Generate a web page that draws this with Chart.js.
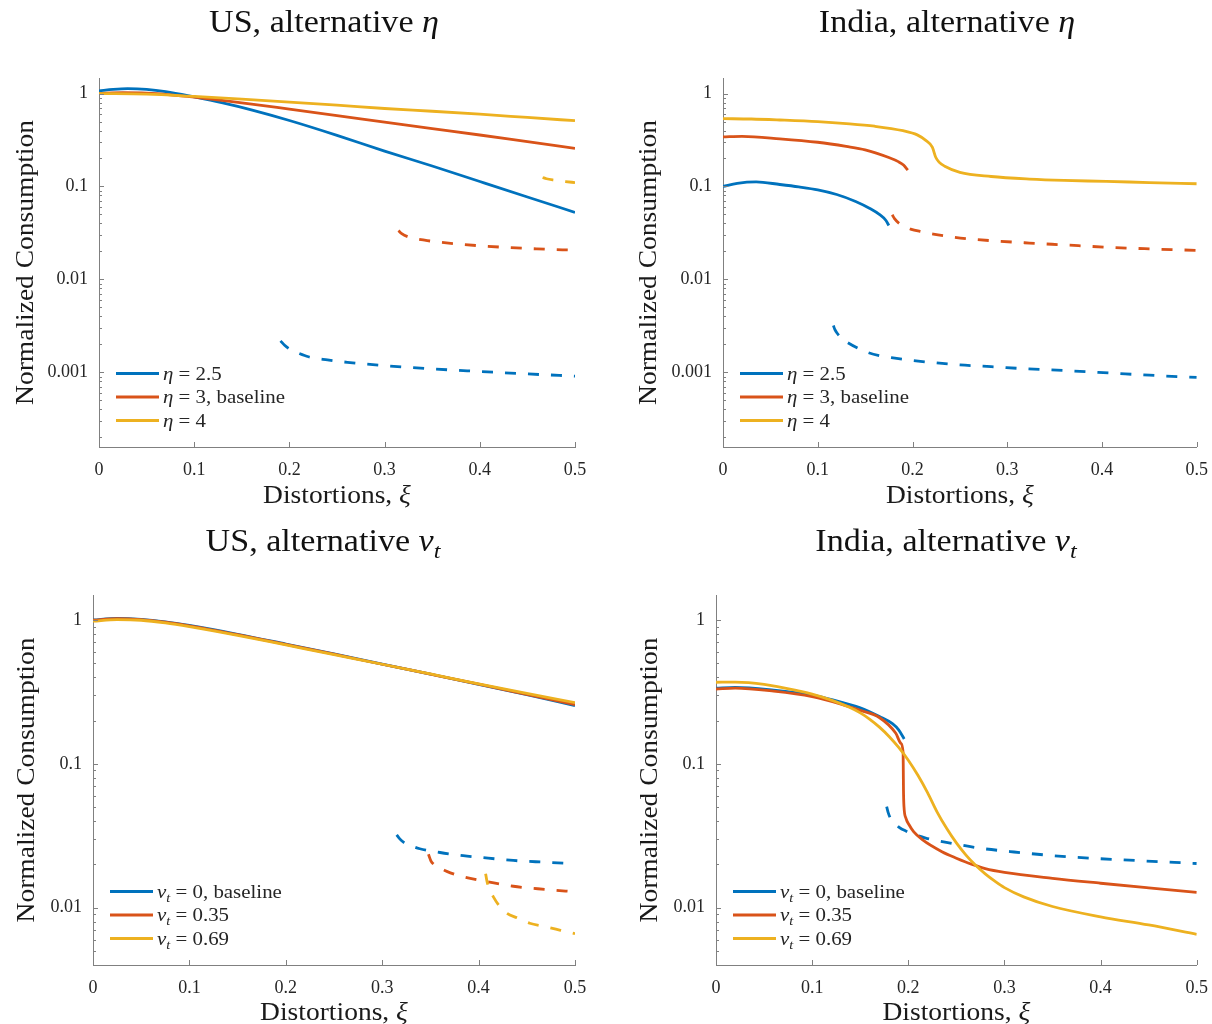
<!DOCTYPE html>
<html><head><meta charset="utf-8">
<script src="https://cdn.jsdelivr.net/npm/chart.js@4.4.1/dist/chart.umd.min.js"></script>
<style>
html,body{margin:0;padding:0;background:#fff;}
#wrap{position:relative;width:1212px;height:1024px;background:#fff;}
#wrap canvas{position:absolute;}
</style></head><body>
<div id="wrap">
<canvas id="c1" width="606" height="512" style="left:0px;top:0px"></canvas>
<canvas id="c2" width="606" height="512" style="left:606px;top:0px"></canvas>
<canvas id="c3" width="606" height="512" style="left:0px;top:512px"></canvas>
<canvas id="c4" width="606" height="512" style="left:606px;top:512px"></canvas>
</div>
<script>
// ---------- tick labels ----------
const XI_TICKS = [0, 0.1, 0.2, 0.3, 0.4, 0.5];
const Y_DECADE_LABELS = {'0': '1', '-1': '0.1', '-2': '0.01', '-3': '0.001'};

// ---------- US, alternative eta ----------
const US_ETA25_X = [0, 0.015, 0.03, 0.05, 0.07, 0.1, 0.13, 0.16, 0.2, 0.25, 0.3, 0.35, 0.4, 0.45, 0.5];
const US_ETA25_Y = [1.07, 1.11, 1.13, 1.11, 1.05, 0.92, 0.794, 0.668, 0.513, 0.355, 0.24, 0.166, 0.113, 0.077, 0.0526];
const US_ETA3_X = [0, 0.025, 0.05, 0.075, 0.1, 0.15, 0.2, 0.25, 0.3, 0.35, 0.4, 0.45, 0.5];
const US_ETA3_Y = [1.0, 1.02, 1.01, 0.97, 0.915, 0.795, 0.68, 0.58, 0.493, 0.42, 0.358, 0.303, 0.257];
const US_ETA4_X = [0, 0.05, 0.1, 0.15, 0.2, 0.25, 0.3, 0.35, 0.4, 0.45, 0.5];
const US_ETA4_Y = [1.0, 0.985, 0.93, 0.87, 0.81, 0.75, 0.69, 0.645, 0.6, 0.553, 0.51];
const US_ETA25_DASH_X = [0.1907, 0.195, 0.2, 0.21, 0.22, 0.24, 0.261, 0.3, 0.342, 0.4, 0.45, 0.5];
const US_ETA25_DASH_Y = [0.00218, 0.00195, 0.00178, 0.0016, 0.00147, 0.00136, 0.00128, 0.00118, 0.0011, 0.00102, 0.00096, 0.00091];
const US_ETA3_DASH_X = [0.3146, 0.318, 0.326, 0.342, 0.36, 0.383, 0.42, 0.46, 0.5];
const US_ETA3_DASH_Y = [0.0335, 0.031, 0.0284, 0.0264, 0.025, 0.0237, 0.0223, 0.0213, 0.0206];
const US_ETA4_DASH_X = [0.466, 0.47, 0.478, 0.49, 0.5];
const US_ETA4_DASH_Y = [0.125, 0.121, 0.117, 0.113, 0.11];

// ---------- India, alternative eta ----------
const IN_ETA25_X = [0, 0.015, 0.035, 0.06, 0.08, 0.1, 0.12, 0.14, 0.155, 0.165, 0.172, 0.175];
const IN_ETA25_Y = [0.1, 0.108, 0.112, 0.105, 0.099, 0.092, 0.082, 0.069, 0.058, 0.05, 0.043, 0.038];
const IN_ETA3_X = [0, 0.02, 0.06, 0.1, 0.13, 0.15, 0.175, 0.185, 0.1905, 0.195];
const IN_ETA3_Y = [0.341, 0.346, 0.326, 0.299, 0.27, 0.248, 0.205, 0.185, 0.17, 0.15];
const IN_ETA4_X = [0, 0.03, 0.06, 0.1, 0.13, 0.16, 0.19, 0.205, 0.214, 0.2209, 0.2245, 0.228, 0.234, 0.25, 0.283, 0.3235, 0.36, 0.4046, 0.45, 0.5];
const IN_ETA4_Y = [0.537, 0.532, 0.519, 0.498, 0.475, 0.445, 0.398, 0.359, 0.313, 0.265, 0.206, 0.183, 0.165, 0.142, 0.128, 0.12, 0.116, 0.1135, 0.11, 0.107];
const IN_ETA25_DASH_X = [0.1165, 0.118, 0.1205, 0.126, 0.1327, 0.142, 0.153, 0.165, 0.1814, 0.2, 0.222, 0.25, 0.283, 0.32, 0.364, 0.41, 0.45, 0.5];
const IN_ETA25_DASH_Y = [0.00318, 0.0029, 0.00263, 0.00228, 0.00205, 0.00182, 0.00163, 0.00151, 0.00142, 0.00134, 0.00127, 0.0012, 0.00115, 0.00109, 0.00104, 0.00098, 0.00093, 0.00088];
const IN_ETA3_DASH_X = [0.1786, 0.181, 0.186, 0.192, 0.198, 0.21, 0.222, 0.24, 0.2626, 0.29, 0.3235, 0.36, 0.4046, 0.45, 0.5];
const IN_ETA3_DASH_Y = [0.0495, 0.045, 0.04, 0.037, 0.0348, 0.0325, 0.0307, 0.0288, 0.0271, 0.0258, 0.0246, 0.0235, 0.0222, 0.0213, 0.0205];

// ---------- US, alternative nu_t ----------
const US_NU_X = [0, 0.025, 0.05, 0.075, 0.1, 0.15, 0.2, 0.25, 0.3, 0.35, 0.4, 0.45, 0.5];
const US_NU0_Y = [1.0, 1.025, 1.01, 0.97, 0.915, 0.795, 0.68, 0.58, 0.493, 0.42, 0.357, 0.302, 0.254];
const US_NU35_Y = [0.995, 1.02, 1.005, 0.965, 0.91, 0.79, 0.677, 0.578, 0.492, 0.42, 0.358, 0.304, 0.258];
const US_NU69_Y = [0.98, 1.005, 0.995, 0.955, 0.9, 0.782, 0.67, 0.574, 0.492, 0.421, 0.36, 0.309, 0.266];
const US_NU0_DASH_X = [0.315, 0.318, 0.322, 0.33, 0.339, 0.36, 0.384, 0.41, 0.436, 0.47, 0.5];
const US_NU0_DASH_Y = [0.0321, 0.0302, 0.0286, 0.0269, 0.0257, 0.0242, 0.023, 0.0221, 0.0213, 0.0207, 0.0202];
const US_NU35_DASH_X = [0.348, 0.3505, 0.353, 0.36, 0.367, 0.38, 0.4015, 0.436, 0.47, 0.5];
const US_NU35_DASH_Y = [0.0235, 0.0212, 0.0202, 0.0189, 0.0179, 0.0167, 0.0155, 0.0141, 0.0134, 0.0129];
const US_NU69_DASH_X = [0.4073, 0.4085, 0.411, 0.4153, 0.421, 0.429, 0.44, 0.453, 0.47, 0.485, 0.5];
const US_NU69_DASH_Y = [0.0172, 0.0155, 0.0135, 0.0119, 0.0104, 0.0092, 0.0085, 0.0078, 0.00736, 0.00697, 0.0066];

// ---------- India, alternative nu_t ----------
const IN_NU0_X = [0, 0.02, 0.06, 0.1, 0.1214, 0.15, 0.17, 0.1835, 0.19, 0.1957];
const IN_NU0_Y = [0.335, 0.34, 0.325, 0.3, 0.278, 0.245, 0.213, 0.19, 0.172, 0.149];
const IN_NU35_X = [0, 0.02, 0.06, 0.1, 0.13, 0.15, 0.1698, 0.187, 0.1922, 0.1946, 0.1948, 0.195, 0.1955, 0.1975, 0.2008, 0.2055, 0.2146, 0.235, 0.25, 0.2664, 0.28, 0.3, 0.35, 0.4, 0.45, 0.5];
const IN_NU35_Y = [0.331, 0.336, 0.32, 0.293, 0.26, 0.235, 0.21, 0.163, 0.139, 0.12, 0.09, 0.065, 0.0505, 0.042, 0.0377, 0.0338, 0.0297, 0.0245, 0.0221, 0.02, 0.0187, 0.0176, 0.016, 0.0148, 0.01375, 0.0128];
const IN_NU69_X = [0, 0.02, 0.05, 0.087, 0.1, 0.12, 0.1387, 0.15, 0.16, 0.17, 0.18, 0.19, 0.2, 0.21, 0.22, 0.23, 0.24, 0.25, 0.26, 0.27, 0.28, 0.29, 0.3, 0.32, 0.35, 0.4, 0.45, 0.5];
const IN_NU69_Y = [0.369, 0.37, 0.357, 0.32, 0.305, 0.277, 0.247, 0.226, 0.204, 0.18, 0.155, 0.13, 0.106, 0.0832, 0.0631, 0.0462, 0.0355, 0.0282, 0.0232, 0.0197, 0.0172, 0.0153, 0.0138, 0.0119, 0.0102, 0.00865, 0.00759, 0.00653];
const IN_NU0_DASH_X = [0.1775, 0.179, 0.1815, 0.1855, 0.1905, 0.198, 0.2055, 0.2181, 0.2456, 0.2733, 0.31, 0.3658, 0.43, 0.5];
const IN_NU0_DASH_Y = [0.0504, 0.046, 0.0418, 0.039, 0.0362, 0.034, 0.0324, 0.0305, 0.028, 0.026, 0.0244, 0.0226, 0.0214, 0.0203];

// ---------- styling ----------
const BLUE = '#0072BD', RED = '#D95319', YELLOW = '#EDB120';
const AXIS_COLOR = '#808080', TEXT_COLOR = '#262626';
const FONT = '"Liberation Serif", "DejaVu Serif", serif';
const DASH = [11, 12];
const LINE_W = 2.8;

function pts(xs, ys) { return xs.map((v, i) => ({x: v, y: ys[i]})); }

function parseRich(s) {
  const segs = [];
  for (let i = 0; i < s.length; i++) {
    let ch = s[i], style = 'r';
    if (ch === '_') { ch = s[++i]; style = 'sub'; }
    else if (/[\u03b1-\u03c9]/.test(ch)) style = 'i';
    const last = segs[segs.length - 1];
    if (last && last.style === style) last.t += ch; else segs.push({t: ch, style});
  }
  return segs;
}
function drawRich(ctx, s, x, y, size, align, sx, color) {
  const segs = parseRich(s);
  const fontFor = st => st === 'r' ? `${size}px ${FONT}` : st === 'i' ? `italic ${size}px ${FONT}` : `italic ${Math.round(size * 0.7)}px ${FONT}`;
  let w = 0;
  segs.forEach(g => { ctx.font = fontFor(g.style); g.w = ctx.measureText(g.t).width; w += g.w; });
  ctx.save();
  ctx.translate(x, y); ctx.scale(sx, 1);
  ctx.fillStyle = color; ctx.textBaseline = 'alphabetic'; ctx.textAlign = 'left';
  let cx = align === 'center' ? -w / 2 : (align === 'right' ? -w : 0);
  segs.forEach(g => { ctx.font = fontFor(g.style); ctx.fillText(g.t, cx, g.style === 'sub' ? size * 0.22 : 0); cx += g.w; });
  ctx.restore();
}

const decorPlugin = {
  id: 'decor',
  afterDraw(chart) {
    const cfg = chart.options.plugins.decor;
    const {ctx, chartArea: ca} = chart;
    const xs = chart.scales.x, ys = chart.scales.y;
    ctx.save();
    ctx.strokeStyle = AXIS_COLOR; ctx.lineWidth = 1;
    ctx.beginPath();
    XI_TICKS.forEach(v => {
      const px = Math.round(xs.getPixelForValue(v)) + 0.5;
      ctx.moveTo(px, ca.bottom); ctx.lineTo(px, ca.bottom - 5);
    });
    const e0 = Math.floor(Math.log10(ys.min)), e1 = Math.ceil(Math.log10(ys.max));
    for (let e = e0; e <= e1; e++) {
      for (let m = 1; m <= 9; m++) {
        const v = m * Math.pow(10, e);
        if (v < ys.min || v > ys.max) continue;
        const py = Math.round(ys.getPixelForValue(v)) + 0.5;
        ctx.moveTo(ca.left, py); ctx.lineTo(ca.left + (m === 1 ? 5 : 3), py);
      }
    }
    ctx.stroke();
    ctx.restore();
    // title
    drawRich(ctx, cfg.title, cfg.titleX, cfg.titleY, 31, 'center', 1.1, '#111');
    // x label
    drawRich(ctx, 'Distortions, ξ', (ca.left + ca.right) / 2, cfg.xLabelY, 25, 'center', 1.1, '#1a1a1a');
    // y label
    ctx.save();
    ctx.translate(cfg.yLabelX, (ca.top + ca.bottom) / 2);
    ctx.rotate(-Math.PI / 2);
    drawRich(ctx, 'Normalized Consumption', 0, 0, 25, 'center', 1.1, '#1a1a1a');
    ctx.restore();
    // legend (solid series only)
    const items = chart.data.datasets.filter(d => d.inLegend).sort((a, b) => a.legendIndex - b.legendIndex);
    const rows = [ca.bottom - 73.5, ca.bottom - 50, ca.bottom - 26.5];
    items.forEach((d, i) => {
      const ry = rows[i];
      ctx.save();
      ctx.strokeStyle = d.borderColor; ctx.lineWidth = LINE_W;
      ctx.beginPath(); ctx.moveTo(ca.left + 17, ry); ctx.lineTo(ca.left + 60, ry); ctx.stroke();
      ctx.restore();
      drawRich(ctx, d.label, ca.left + 64, ry + 6, 19, 'left', 1.1, TEXT_COLOR);
    });
  }
};

function makeChart(id, p) {
  const W = 606, H = 512;
  const datasets = p.series.map((s) => ({
    label: s.label,
    data: pts(s.x, s.y),
    borderColor: s.color,
    backgroundColor: s.color,
    borderWidth: LINE_W,
    borderDash: s.dashed ? DASH : [],
    pointRadius: 0,
    cubicInterpolationMode: 'monotone',
    fill: false,
    order: s.order,
    inLegend: !s.dashed,
    legendIndex: s.legendIndex
  }));
  return new Chart(document.getElementById(id), {
    type: 'line',
    data: {datasets},
    plugins: [decorPlugin],
    options: {
      responsive: false,
      animation: false,
      devicePixelRatio: 1,
      layout: {padding: {left: 0, top: p.area.top, right: W - p.area.right, bottom: 0}},
      plugins: {
        legend: {display: false},
        title: {display: false},
        tooltip: {enabled: false},
        decor: {title: p.title, titleX: p.titleX, titleY: p.titleY, xLabelY: p.xLabelY, yLabelX: p.yLabelX}
      },
      scales: {
        x: {
          type: 'linear', min: 0, max: 0.5,
          grid: {display: false},
          border: {display: true, color: AXIS_COLOR, width: 1},
          ticks: {
            stepSize: 0.1, padding: 4, color: TEXT_COLOR,
            font: {family: FONT, size: 18},
            callback: v => (Math.abs(v) < 1e-9 ? '0' : v.toFixed(1))
          },
          afterFit: s => { s.height = H - p.area.bottom; }
        },
        y: {
          type: 'logarithmic', min: p.yMin, max: p.yMax,
          grid: {display: false},
          border: {display: true, color: AXIS_COLOR, width: 1},
          ticks: {
            autoSkip: false, padding: 3, color: TEXT_COLOR,
            font: {family: FONT, size: 18},
            callback: v => {
              const e = Math.log10(v), r = Math.round(e);
              return Math.abs(e - r) < 1e-6 && Y_DECADE_LABELS[String(r)] ? Y_DECADE_LABELS[String(r)] : '';
            }
          },
          afterFit: s => { s.width = p.area.left; }
        }
      }
    }
  });
}

makeChart('c1', {
  title: 'US, alternative η', titleX: 324, titleY: 32, xLabelY: 503, yLabelX: 33,
  area: {left: 99, right: 575, top: 78, bottom: 447}, yMin: 0.000157, yMax: 1.47,
  series: [
    {label: 'η = 2.5', color: BLUE, x: US_ETA25_X, y: US_ETA25_Y, order: 2, legendIndex: 0},
    {label: 'η = 3, baseline', color: RED, x: US_ETA3_X, y: US_ETA3_Y, order: 1, legendIndex: 1},
    {label: 'η = 4', color: YELLOW, x: US_ETA4_X, y: US_ETA4_Y, order: 0, legendIndex: 2},
    {label: 'η = 2.5', color: BLUE, x: US_ETA25_DASH_X, y: US_ETA25_DASH_Y, dashed: true, order: 5},
    {label: 'η = 3', color: RED, x: US_ETA3_DASH_X, y: US_ETA3_DASH_Y, dashed: true, order: 4},
    {label: 'η = 4', color: YELLOW, x: US_ETA4_DASH_X, y: US_ETA4_DASH_Y, dashed: true, order: 3}
  ]
});
makeChart('c2', {
  title: 'India, alternative η', titleX: 341, titleY: 32, xLabelY: 503, yLabelX: 50,
  area: {left: 117, right: 593, top: 78, bottom: 447}, yMin: 0.000157, yMax: 1.47,
  series: [
    {label: 'η = 2.5', color: BLUE, x: IN_ETA25_X, y: IN_ETA25_Y, order: 2, legendIndex: 0},
    {label: 'η = 3, baseline', color: RED, x: IN_ETA3_X, y: IN_ETA3_Y, order: 1, legendIndex: 1},
    {label: 'η = 4', color: YELLOW, x: IN_ETA4_X, y: IN_ETA4_Y, order: 0, legendIndex: 2},
    {label: 'η = 2.5', color: BLUE, x: IN_ETA25_DASH_X, y: IN_ETA25_DASH_Y, dashed: true, order: 5},
    {label: 'η = 3', color: RED, x: IN_ETA3_DASH_X, y: IN_ETA3_DASH_Y, dashed: true, order: 4}
  ]
});
makeChart('c3', {
  title: 'US, alternative ν_t', titleX: 323, titleY: 39, xLabelY: 508, yLabelX: 34,
  area: {left: 93, right: 575, top: 83, bottom: 453}, yMin: 0.004, yMax: 1.49,
  series: [
    {label: 'ν_t = 0, baseline', color: BLUE, x: US_NU_X, y: US_NU0_Y, order: 2, legendIndex: 0},
    {label: 'ν_t = 0.35', color: RED, x: US_NU_X, y: US_NU35_Y, order: 1, legendIndex: 1},
    {label: 'ν_t = 0.69', color: YELLOW, x: US_NU_X, y: US_NU69_Y, order: 0, legendIndex: 2},
    {label: 'ν_t = 0', color: BLUE, x: US_NU0_DASH_X, y: US_NU0_DASH_Y, dashed: true, order: 5},
    {label: 'ν_t = 0.35', color: RED, x: US_NU35_DASH_X, y: US_NU35_DASH_Y, dashed: true, order: 4},
    {label: 'ν_t = 0.69', color: YELLOW, x: US_NU69_DASH_X, y: US_NU69_DASH_Y, dashed: true, order: 3}
  ]
});
makeChart('c4', {
  title: 'India, alternative ν_t', titleX: 340, titleY: 39, xLabelY: 508, yLabelX: 51,
  area: {left: 110, right: 593, top: 83, bottom: 453}, yMin: 0.004, yMax: 1.49,
  series: [
    {label: 'ν_t = 0, baseline', color: BLUE, x: IN_NU0_X, y: IN_NU0_Y, order: 2, legendIndex: 0},
    {label: 'ν_t = 0.35', color: RED, x: IN_NU35_X, y: IN_NU35_Y, order: 1, legendIndex: 1},
    {label: 'ν_t = 0.69', color: YELLOW, x: IN_NU69_X, y: IN_NU69_Y, order: 0, legendIndex: 2},
    {label: 'ν_t = 0', color: BLUE, x: IN_NU0_DASH_X, y: IN_NU0_DASH_Y, dashed: true, order: 3}
  ]
});
</script>
</body></html>
